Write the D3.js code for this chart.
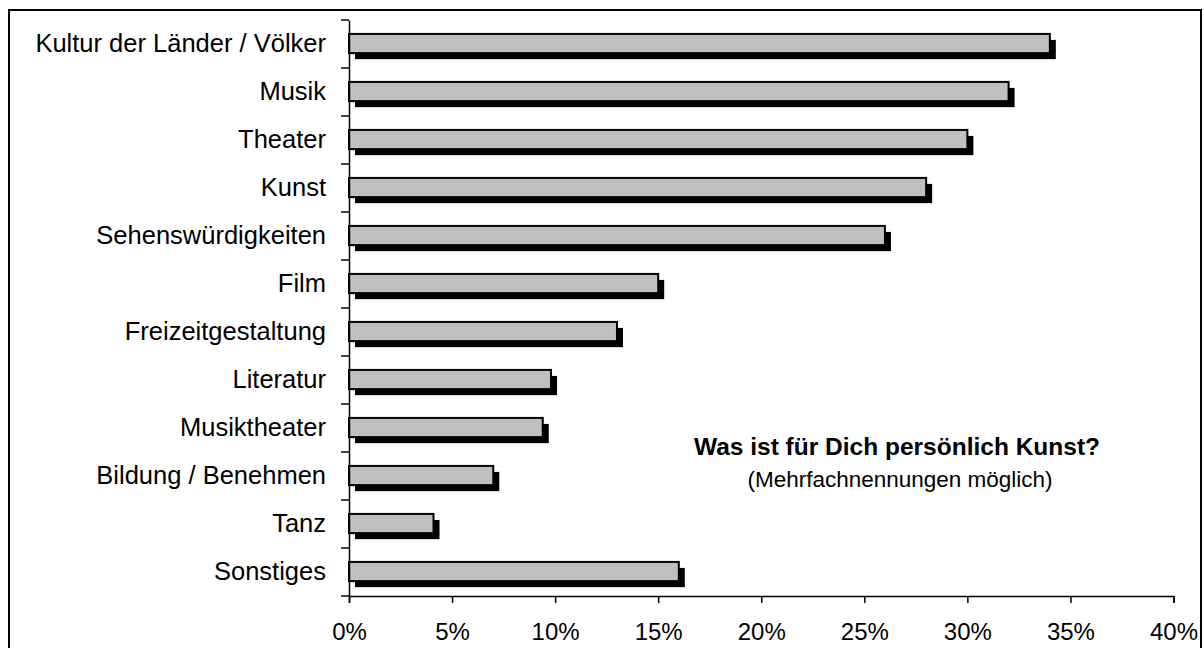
<!DOCTYPE html>
<html>
<head>
<meta charset="utf-8">
<script src="https://cdn.jsdelivr.net/npm/d3@7"></script>
<style>
  body { margin: 0; background: #fff; }
  text { font-family: "Liberation Sans", Arial, sans-serif; }
</style>
</head>
<body>
<div id="chart"></div>
<script>
// data
const categories = [
  "Kultur der Länder / Völker",
  "Musik",
  "Theater",
  "Kunst",
  "Sehenswürdigkeiten",
  "Film",
  "Freizeitgestaltung",
  "Literatur",
  "Musiktheater",
  "Bildung / Benehmen",
  "Tanz",
  "Sonstiges"
];
const shares = [0.34, 0.32, 0.30, 0.28, 0.26, 0.15, 0.13, 0.098, 0.094, 0.07, 0.041, 0.16];
const xTicks = [0, 0.05, 0.10, 0.15, 0.20, 0.25, 0.30, 0.35, 0.40];
const titleLines = ["Was ist für Dich persönlich Kunst?", "(Mehrfachnennungen möglich)"];

const dataset = categories.map((c, i) => ({ label: c, value: shares[i] }));

const width = 1204;
const height = 648;
const plot = { left: 349, right: 1173.5, top: 20, bottom: 596 };
const shadowOffset = 6;

const svg = d3.select("#chart")
  .append("svg")
    .attr("width", width)
    .attr("height", height);

// outer frame
svg.append("rect")
  .attr("x", 9)
  .attr("y", 10)
  .attr("width", 1192)
  .attr("height", 660)
  .attr("fill", "none")
  .attr("stroke", "#000")
  .attr("stroke-width", 2);

const xScale = d3.scaleLinear()
  .domain([0, 0.4])
  .range([plot.left, plot.right]);

const yScale = d3.scaleBand()
  .domain(categories)
  .range([plot.top, plot.bottom])
  .padding(0);

const barHeight = yScale.bandwidth() * 0.4;
const barOffset = yScale.bandwidth() * 0.29;

// bars: shadow then bar
const bars = svg.append("g");

bars.selectAll(".shadow")
  .data(dataset)
  .join("rect")
    .attr("class", "shadow")
    .attr("x", xScale(0) + shadowOffset)
    .attr("y", d => yScale(d.label) + barOffset + shadowOffset)
    .attr("width", d => xScale(d.value) - xScale(0))
    .attr("height", barHeight)
    .attr("fill", "#000");

bars.selectAll(".bar")
  .data(dataset)
  .join("rect")
    .attr("class", "bar")
    .attr("x", xScale(0))
    .attr("y", d => yScale(d.label) + barOffset)
    .attr("width", d => xScale(d.value) - xScale(0))
    .attr("height", barHeight)
    .attr("fill", "#c0c0c0")
    .attr("stroke", "#000")
    .attr("stroke-width", 2);

// x axis
const xAxis = d3.axisBottom(xScale)
  .tickValues(xTicks)
  .tickFormat(d3.format(".0%"))
  .tickSizeOuter(0)
  .tickSize(7)
  .tickPadding(20);

const xAxisGroup = svg.append("g")
  .attr("transform", `translate(0,${plot.bottom})`)
  .call(xAxis);
xAxisGroup.selectAll("text")
  .attr("font-size", 24)
  .attr("fill", "#000")
  .attr("font-family", "Liberation Sans, Arial, sans-serif");
xAxisGroup.selectAll("line, path").attr("stroke", "#000").attr("stroke-width", 1.5);

// y axis: labels centred on bands, ticks on band edges
const yAxis = d3.axisLeft(yScale)
  .tickSize(0)
  .tickPadding(23);

const yAxisGroup = svg.append("g")
  .attr("transform", `translate(${plot.left},0)`)
  .call(yAxis);
yAxisGroup.selectAll("text")
  .attr("font-size", 25.5)
  .attr("fill", "#000")
  .attr("font-family", "Liberation Sans, Arial, sans-serif");
yAxisGroup.select(".domain").attr("stroke", "#000").attr("stroke-width", 1.5);

const edges = categories.map(c => yScale(c)).concat([plot.bottom]);
yAxisGroup.selectAll(".edge")
  .data(edges)
  .join("line")
    .attr("class", "edge")
    .attr("x1", -8)
    .attr("x2", 0)
    .attr("y1", d => d)
    .attr("y2", d => d)
    .attr("stroke", "#000")
    .attr("stroke-width", 1.5);

// annotation
svg.append("text")
  .attr("x", 897)
  .attr("y", 455)
  .attr("text-anchor", "middle")
  .attr("font-size", 24.5)
  .attr("font-weight", "bold")
  .text(titleLines[0]);

svg.append("text")
  .attr("x", 900)
  .attr("y", 487)
  .attr("text-anchor", "middle")
  .attr("font-size", 22.5)
  .text(titleLines[1]);
</script>
</body>
</html>
